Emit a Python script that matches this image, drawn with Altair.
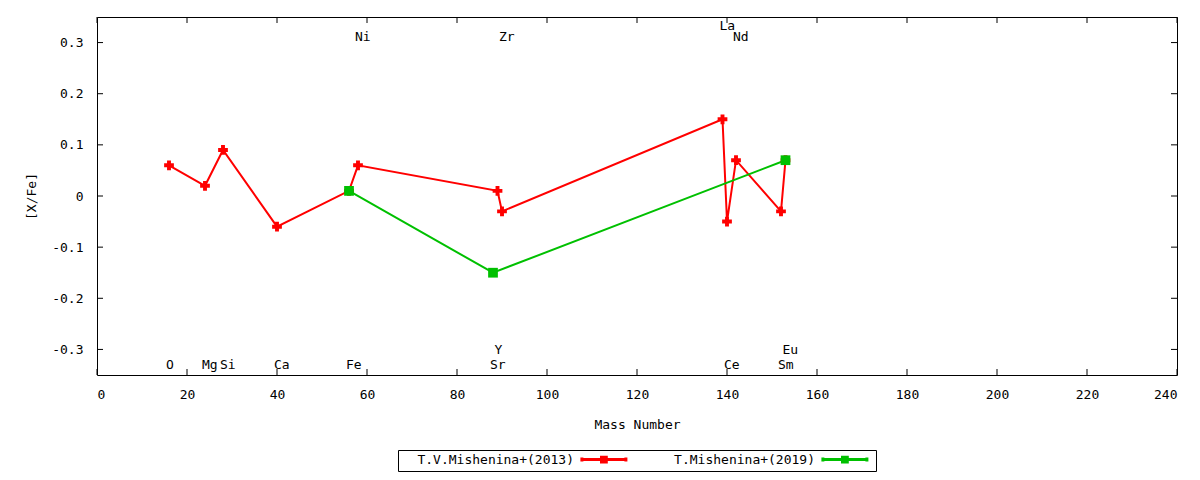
import altair as alt
import pandas as pd

FONT = "DejaVu Sans Mono"
RED = "#ff0000"
GREEN = "#00c000"

series_names = ["T.V.Mishenina+(2013)", "T.Mishenina+(2019)"]
series_colors = [RED, GREEN]
series_shapes = ["cross", "square"]

el_2013 = ["O", "Mg", "Si", "Ca", "Fe", "Ni", "Y", "Zr", "La", "Ce", "Nd", "Sm", "Eu"]
mass_2013 = [16, 24, 28, 40, 56, 58, 89, 90, 139, 140, 142, 152, 153]
xfe_2013 = [0.06, 0.02, 0.09, -0.06, 0.01, 0.06, 0.01, -0.03, 0.15, -0.05, 0.07, -0.03, 0.07]

el_2019 = ["Fe", "Sr", "Eu"]
mass_2019 = [56, 88, 153]
xfe_2019 = [0.01, -0.15, 0.07]

label_names = ["O", "Mg", "Si", "Ca", "Fe", "Ni", "Sr", "Y", "Zr", "La", "Ce", "Nd", "Sm", "Eu"]
label_mass = [16, 24, 28, 40, 56, 58, 88, 89, 90, 139, 140, 142, 152, 153]
label_y = [-0.33, -0.33, -0.33, -0.33, -0.33, 0.31, -0.33, -0.302, 0.31, 0.332, -0.33, 0.31, -0.33, -0.302]

x_ticks = [0, 20, 40, 60, 80, 100, 120, 140, 160, 180, 200, 220, 240]
y_ticks = [-0.3, -0.2, -0.1, 0.0, 0.1, 0.2, 0.3]

W, H = 1080, 358

rows = []
for i, (e, m, v) in enumerate(zip(el_2013, mass_2013, xfe_2013)):
    rows.append({"series": series_names[0], "el": e, "mass": m, "xfe": v, "idx": i})
for i, (e, m, v) in enumerate(zip(el_2019, mass_2019, xfe_2019)):
    rows.append({"series": series_names[1], "el": e, "mass": m, "xfe": v, "idx": i})
df = pd.DataFrame(rows)

labels_df = pd.DataFrame({"name": label_names, "mass": label_mass, "y": label_y})
xt_df = pd.DataFrame({"v": x_ticks})
yt_df = pd.DataFrame({"v": y_ticks})

xscale = alt.Scale(domain=[0, 240], nice=False, zero=False)
yscale = alt.Scale(domain=[-0.35, 0.35], nice=False, zero=False)
cscale = alt.Scale(domain=series_names, range=series_colors)

x_axis = alt.Axis(values=x_ticks, format="d", ticks=False, domain=False,
                  grid=False, labelPadding=13, titleY=43, titleBaseline="top")
y_axis = alt.Axis(values=y_ticks, ticks=False, domain=False, grid=False,
                  labelPadding=14, titleX=-66, titleY=H / 2, titleBaseline="middle",
                  labelExpr="datum.value == 0 ? '0' : (datum.value < 0 ? '-' : '') + format(abs(datum.value), '.1f')")


def X(field):
    return alt.X(field, scale=xscale, axis=x_axis, title="Mass Number")


def Y(field):
    return alt.Y(field, scale=yscale, axis=y_axis, title="[X/Fe]")


# legend sample drawn to the right of the right-aligned label, gnuplot style
legend_path = ("M43.6,0H54.6M43.6,-0.5V0.5M54.6,-0.5V0.5"
               "M48.5,-0.6H49.7V0.6H48.5Z")

legend = alt.Legend(
    title=None, orient="none", legendX=301, legendY=433, direction="horizontal",
    symbolType=legend_path, symbolSize=64, symbolStrokeWidth=3,
    labelFont=FONT, labelFontSize=13, labelColor="black", labelAlign="right",
    labelOffset=160, labelLimit=0, strokeColor="black", padding=3, columnPadding=10,
)

base = alt.Chart(df)

lines = base.mark_line(strokeWidth=2).encode(
    x=X("mass:Q"),
    y=Y("xfe:Q"),
    color=alt.Color("series:N", scale=cscale, legend=legend),
    order="idx:Q",
)

points_red = base.transform_filter(
    alt.datum.series == series_names[0]
).mark_point(filled=True, size=95, opacity=1, shape=series_shapes[0], color=series_colors[0]).encode(
    x=X("mass:Q"), y=Y("xfe:Q"),
)
points_green = base.transform_filter(
    alt.datum.series == series_names[1]
).mark_point(filled=True, size=95, opacity=1, shape=series_shapes[1], color=series_colors[1]).encode(
    x=X("mass:Q"), y=Y("xfe:Q"),
)

texts = alt.Chart(labels_df).mark_text(
    align="left", baseline="middle", dx=-3, font=FONT, fontSize=13, color="black"
).encode(
    x=X("mass:Q"),
    y=Y("y:Q"),
    text="name:N",
)

TL = 6
tick_bottom = alt.Chart(xt_df).mark_rule(color="black", strokeWidth=1).encode(
    x=X("v:Q"), y=alt.value(H), y2=alt.value(H - TL))
tick_top = alt.Chart(xt_df).mark_rule(color="black", strokeWidth=1).encode(
    x=X("v:Q"), y=alt.value(0), y2=alt.value(TL))
tick_left = alt.Chart(yt_df).mark_rule(color="black", strokeWidth=1).encode(
    y=Y("v:Q"), x=alt.value(0), x2=alt.value(TL))
tick_right = alt.Chart(yt_df).mark_rule(color="black", strokeWidth=1).encode(
    y=Y("v:Q"), x=alt.value(W), x2=alt.value(W - TL))

chart = alt.layer(
    lines, points_red, points_green, texts, tick_bottom, tick_top, tick_left, tick_right
).properties(
    width=W, height=H,
    autosize=alt.AutoSizeParams(type="none"),
    padding={"left": 89, "top": 9, "right": 15, "bottom": 97},
).configure(
    font=FONT, background="white",
).configure_view(
    stroke="black", strokeWidth=1,
).configure_axis(
    labelFont=FONT, titleFont=FONT, labelFontSize=13, titleFontSize=13,
    titleFontWeight="normal", labelColor="black", titleColor="black",
)

chart.save("out.html", embed_options={"renderer": "svg", "actions": False})
